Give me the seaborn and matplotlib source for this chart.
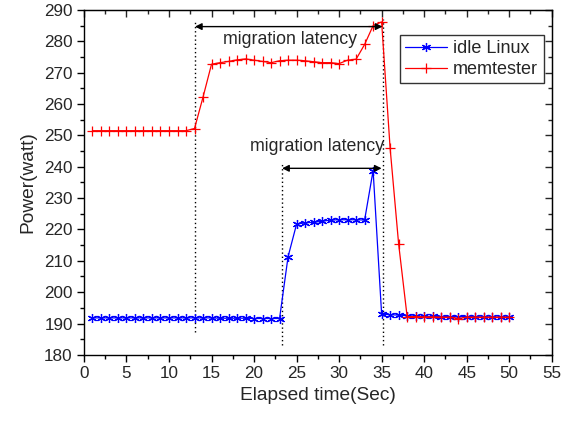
import numpy as np
import pandas as pd
import matplotlib
matplotlib.use("Agg")
import matplotlib.pyplot as plt
import seaborn as sns
from matplotlib.lines import Line2D

# ---- data ----
time_sec = list(range(1, 51))
idle_linux = [191.8, 191.8, 191.8, 191.8, 191.8, 191.8, 191.8, 191.8, 191.8, 191.8,
              191.8, 191.8, 191.8, 191.8, 191.8, 191.7, 191.7, 191.7, 191.7, 191.6,
              191.6, 191.6, 191.6, 211.3, 221.7, 222.1, 222.3, 222.6, 223.0, 223.1,
              223.1, 223.1, 223.0, 238.8, 193.0, 192.8, 192.7, 192.5, 192.4, 192.3,
              192.3, 192.2, 192.2, 192.2, 192.2, 192.2, 192.1, 192.1, 192.1, 192.1]
memtester = [251.5, 251.5, 251.5, 251.5, 251.5, 251.5, 251.5, 251.5, 251.5, 251.5,
             251.5, 251.5, 252.2, 262.2, 272.7, 273.2, 273.6, 274.1, 274.4, 274.0,
             273.6, 273.2, 273.8, 274.0, 274.0, 273.8, 273.5, 273.2, 273.2, 272.9,
             274.0, 274.3, 279.0, 285.0, 286.2, 245.9, 215.4, 192.2, 192.2, 192.1,
             192.1, 192.0, 192.0, 191.6, 192.0, 192.0, 192.0, 192.0, 192.0, 192.0]
series_names = ["idle Linux", "memtester"]

# annotation positions (data coords)
vlines = [(13.05, 187.3, 286.8), (23.3, 183.2, 241.5), (35.2, 183.2, 287.0)]
arrows = [(13.05, 35.1, 284.7, 24.2, 280.6), (23.3, 35.0, 239.5, 27.4, 246.4)]
arrow_label = "migration latency"

df = pd.DataFrame({
    "t": time_sec * 2,
    "power": idle_linux + memtester,
    "series": [series_names[0]] * len(time_sec) + [series_names[1]] * len(time_sec),
})

sns.set_style("ticks")
plt.rcParams["font.family"] = ["Liberation Sans", "DejaVu Sans"]

fig = plt.figure(figsize=(5.75, 4.25), dpi=100)
ax = fig.add_axes([0.146, 0.165, 0.8135, 0.8115])

palette = {"idle Linux": "#0000ff", "memtester": "#ff0000"}
markers = {"idle Linux": (6, 2, 0), "memtester": "+"}
msize = 6.5
sns.lineplot(data=df, x="t", y="power", hue="series", style="series",
             palette=palette, markers=markers, dashes=False, ax=ax,
             linewidth=0.9, markersize=msize, legend=False)

for line in ax.get_lines():
    c = line.get_color()
    line.set_markeredgecolor(c)
    line.set_markerfacecolor(c)
    line.set_markeredgewidth(0.9)

for x, y0, y1 in vlines:
    ax.plot([x, x], [y0, y1], color="black", linestyle=(0, (1, 2)), linewidth=1.0, zorder=1)

for x0, x1, y, tx, ty in arrows:
    ax.annotate("", xy=(x0, y), xytext=(x1, y),
                arrowprops=dict(arrowstyle="<|-|>", color="black", lw=1.0,
                                shrinkA=0, shrinkB=0, mutation_scale=10))
    ax.text(tx, ty, arrow_label, ha="center", va="center", fontsize=12.8)

ax.set_xlim(0, 55)
ax.set_ylim(180, 290)
ax.set_xticks(np.arange(0, 56, 5))
ax.set_yticks(np.arange(180, 291, 10))
ax.set_xticks(np.arange(2.5, 55, 5), minor=True)
ax.set_yticks(np.arange(185, 290, 10), minor=True)
ax.tick_params(which="major", direction="out", length=5, width=1, labelsize=12.3,
               color="black", pad=3)
ax.tick_params(which="minor", direction="out", length=3, width=1, color="black")
for s in ax.spines.values():
    s.set_color("black")
    s.set_linewidth(1.0)

top = ax.secondary_xaxis("top")
top.set_xticks(np.arange(0, 56, 5))
top.set_xticks(np.arange(2.5, 55, 5), minor=True)
top.tick_params(which="major", direction="in", length=5, width=1, labeltop=False)
top.tick_params(which="minor", direction="in", length=3, width=1)
right = ax.secondary_yaxis("right")
right.set_yticks(np.arange(180, 291, 10))
right.set_yticks(np.arange(185, 290, 10), minor=True)
right.tick_params(which="major", direction="in", length=5, width=1, labelright=False)
right.tick_params(which="minor", direction="in", length=3, width=1)

ax.set_xlabel("Elapsed time(Sec)", fontsize=13.8, labelpad=4)
ax.set_ylabel("Power(watt)", fontsize=13.8, labelpad=6)

handles = [Line2D([], [], color=palette[n], marker=markers[n], markersize=msize,
                  markeredgecolor=palette[n], markeredgewidth=0.9, linewidth=0.9)
           for n in series_names]
leg = ax.legend(handles, series_names, loc="upper left", bbox_to_anchor=(0.6757, 0.9275),
                fontsize=13, frameon=True, fancybox=False, edgecolor="black",
                borderpad=0.3, handlelength=2.3, labelspacing=0.2, handletextpad=0.35,
                borderaxespad=0)
leg.get_frame().set_linewidth(1.0)

fig.savefig("out.png", dpi=100)
